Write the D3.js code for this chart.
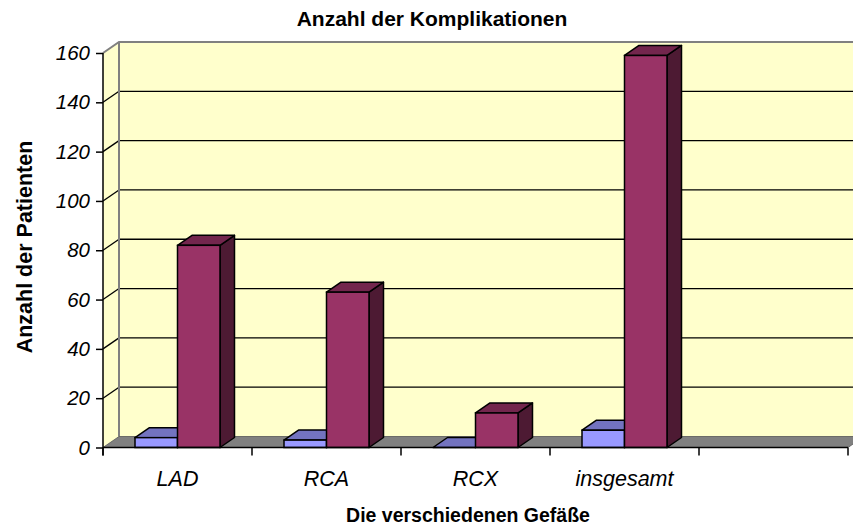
<!DOCTYPE html>
<html>
<head>
<meta charset="utf-8">
<script src="https://cdn.jsdelivr.net/npm/d3@7"></script>
<style>
  body { margin: 0; background: #fff; }
  svg { display: block; font-family: "Liberation Sans", Arial, sans-serif; }
</style>
</head>
<body>
<svg id="chart" width="853" height="528"></svg>
<script>
// values
const categories = ["LAD", "RCA", "RCX", "insgesamt", ""];
const seriesNames = ["Reihe1", "Reihe2"];
const reihe1 = [4, 3, 0, 7];
const reihe2 = [82, 63, 14, 159];
const yTicks = [0, 20, 40, 60, 80, 100, 120, 140, 160];

const svg = d3.select("#chart");

// front plane of the 3d box
const plotLeft = 103, plotRight = 848, plotBottom = 447.5, plotTop = 53;
// depth of walls and bars
const depth = { dx: 16, dy: -11 };
const barDepth = { dx: 14.5, dy: -10 };

const x = d3.scaleBand().domain(categories).range([plotLeft, plotRight]).padding(0);
const xs = d3.scaleBand().domain(seriesNames).range([0, x.bandwidth()])
  .paddingInner(0).paddingOuter(0.753);
const y = d3.scaleLinear().domain([0, 160]).range([plotBottom, plotTop]);

const colors = {
  Reihe1: { front: "#9999ff", top: "#7373c0", side: "#4d4d80" },
  Reihe2: { front: "#993366", top: "#73264d", side: "#4d1a33" }
};

const pts = arr => arr.map(p => p.join(",")).join(" ");

// back wall
svg.append("rect")
  .attr("x", plotLeft + depth.dx).attr("y", plotTop + depth.dy)
  .attr("width", 853 - plotLeft - depth.dx + 5)
  .attr("height", plotBottom - plotTop)
  .attr("fill", "#ffffcc");

// side wall
svg.append("polygon")
  .attr("points", pts([[plotLeft, plotBottom], [plotLeft + depth.dx, plotBottom + depth.dy],
    [plotLeft + depth.dx, plotTop + depth.dy], [plotLeft, plotTop]]))
  .attr("fill", "#ffffcc");

// gridlines on back wall and side wall
const grid = yTicks.filter(v => v > 0 && v < 160);
svg.selectAll(".grid").data(grid).enter().append("line")
  .attr("class", "grid")
  .attr("x1", plotLeft + depth.dx).attr("x2", 853)
  .attr("y1", d => y(d) + depth.dy).attr("y2", d => y(d) + depth.dy)
  .attr("stroke", "#000").attr("stroke-width", 1.3);
svg.selectAll(".sidegrid").data(grid).enter().append("line")
  .attr("class", "sidegrid")
  .attr("x1", plotLeft).attr("x2", plotLeft + depth.dx)
  .attr("y1", d => y(d)).attr("y2", d => y(d) + depth.dy)
  .attr("stroke", "#000").attr("stroke-width", 1.3);

// grey edges of the walls
svg.append("polyline")
  .attr("points", pts([[plotLeft, plotTop], [plotLeft + depth.dx, plotTop + depth.dy], [853, plotTop + depth.dy]]))
  .attr("fill", "none").attr("stroke", "#808080").attr("stroke-width", 2);
svg.append("line")
  .attr("x1", plotLeft + depth.dx).attr("x2", plotLeft + depth.dx)
  .attr("y1", plotTop + depth.dy).attr("y2", plotBottom + depth.dy)
  .attr("stroke", "#808080").attr("stroke-width", 2);

// floor
svg.append("polygon")
  .attr("points", pts([[plotLeft, plotBottom], [plotRight, plotBottom],
    [plotRight + depth.dx, plotBottom + depth.dy], [plotLeft + depth.dx, plotBottom + depth.dy]]))
  .attr("fill", "#808080").attr("stroke", "#555").attr("stroke-width", 0.8);

// bars
const bars = [];
categories.forEach((c, i) => {
  if (i < reihe1.length) {
    bars.push({ cat: c, s: "Reihe1", v: reihe1[i] });
    bars.push({ cat: c, s: "Reihe2", v: reihe2[i] });
  }
});

const g = svg.selectAll(".bar").data(bars).enter().append("g").attr("class", "bar");
g.each(function(d) {
  const x0 = x(d.cat) + xs(d.s), w = xs.bandwidth();
  const yv = y(d.v), y0 = y(0);
  const c = colors[d.s];
  const sel = d3.select(this);
  sel.append("polygon") // side
    .attr("points", pts([[x0 + w, yv], [x0 + w + barDepth.dx, yv + barDepth.dy],
      [x0 + w + barDepth.dx, y0 + barDepth.dy], [x0 + w, y0]]))
    .attr("fill", c.side).attr("stroke", "#000").attr("stroke-width", 1.5)
    .attr("stroke-linejoin", "round");
  sel.append("polygon") // top
    .attr("points", pts([[x0, yv], [x0 + barDepth.dx, yv + barDepth.dy],
      [x0 + w + barDepth.dx, yv + barDepth.dy], [x0 + w, yv]]))
    .attr("fill", c.top).attr("stroke", "#000").attr("stroke-width", 1.5)
    .attr("stroke-linejoin", "round");
  sel.append("rect") // front
    .attr("x", x0).attr("y", yv).attr("width", w).attr("height", y0 - yv)
    .attr("fill", c.front).attr("stroke", "#000").attr("stroke-width", 1.5);
});

// y axis
const yAxis = svg.append("g")
  .attr("transform", `translate(${plotLeft},0)`)
  .call(d3.axisLeft(y).tickValues(yTicks).tickSize(7).tickPadding(6));
yAxis.select(".domain").attr("d", `M0,${plotTop}V${plotBottom + 8}`).attr("stroke-width", 1.5);
yAxis.selectAll(".tick line").attr("stroke-width", 1.5);
yAxis.selectAll("text")
  .attr("font-size", 20.5).attr("font-style", "italic").attr("fill", "#000")
  .attr("font-family", "'Liberation Sans', Arial, sans-serif");

// x axis
const xAxis = svg.append("g")
  .attr("transform", `translate(0,${plotBottom})`);
xAxis.append("line")
  .attr("x1", plotLeft).attr("x2", plotRight).attr("stroke", "#000").attr("stroke-width", 1.5);
const bounds = d3.range(categories.length + 1).map(i => plotLeft + i * x.step());
xAxis.selectAll(".xt").data(bounds).enter().append("line")
  .attr("x1", d => d).attr("x2", d => d).attr("y1", 0).attr("y2", 8)
  .attr("stroke", "#000").attr("stroke-width", 1.5);
xAxis.selectAll(".xl").data(categories).enter().append("text")
  .attr("x", d => x(d) + x.bandwidth() / 2).attr("y", 38)
  .attr("text-anchor", "middle").attr("font-size", 21.5).attr("font-style", "italic")
  .text(d => d);

// titles
svg.append("text").attr("x", 432).attr("y", 26).attr("text-anchor", "middle")
  .attr("font-size", 21).attr("font-weight", "bold")
  .text("Anzahl der Komplikationen");
svg.append("text").attr("x", 468).attr("y", 522).attr("text-anchor", "middle")
  .attr("font-size", 19.5).attr("font-weight", "bold")
  .text("Die verschiedenen Gefäße");
svg.append("text")
  .attr("transform", "translate(32,247) rotate(-90)")
  .attr("text-anchor", "middle").attr("font-size", 21.5).attr("font-weight", "bold")
  .text("Anzahl der Patienten");
</script>
</body>
</html>
